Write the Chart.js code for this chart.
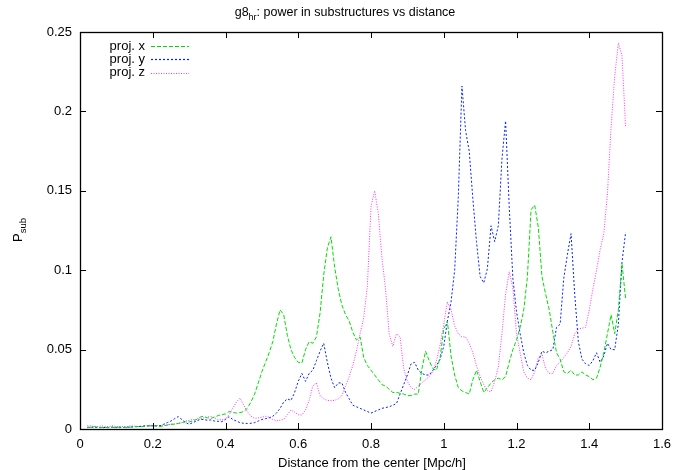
<!DOCTYPE html>
<html>
<head>
<meta charset="utf-8">
<script src="https://cdn.jsdelivr.net/npm/chart.js@4.4.1/dist/chart.umd.min.js"></script>
<style>
    html, body { margin: 0; padding: 0; background: #fff; }
    #wrap { width: 690px; height: 470px; }
</style>
</head>
<body>
<div id="wrap"><canvas id="psubChart" width="690" height="470"></canvas></div>
<script>
// distance from the center [Mpc/h]
const distance = [
    0.02, 0.03, 0.04, 0.05, 0.06, 0.07, 0.08, 0.09, 0.10, 0.11,
    0.12, 0.13, 0.14, 0.15, 0.16, 0.17, 0.18, 0.19, 0.20, 0.21,
    0.22, 0.23, 0.24, 0.25, 0.26, 0.27, 0.28, 0.29, 0.30, 0.31,
    0.32, 0.33, 0.34, 0.35, 0.36, 0.37, 0.38, 0.39, 0.40, 0.41,
    0.42, 0.43, 0.44, 0.45, 0.46, 0.47, 0.48, 0.49, 0.50, 0.51,
    0.52, 0.53, 0.54, 0.55, 0.56, 0.57, 0.58, 0.59, 0.60, 0.61,
    0.62, 0.63, 0.64, 0.65, 0.66, 0.67, 0.68, 0.69, 0.70, 0.71,
    0.72, 0.73, 0.74, 0.75, 0.76, 0.77, 0.78, 0.79, 0.80, 0.81,
    0.82, 0.83, 0.84, 0.85, 0.86, 0.87, 0.88, 0.89, 0.90, 0.91,
    0.92, 0.93, 0.94, 0.95, 0.96, 0.97, 0.98, 0.99, 1.00, 1.01,
    1.02, 1.03, 1.04, 1.05, 1.06, 1.07, 1.08, 1.09, 1.10, 1.11,
    1.12, 1.13, 1.14, 1.15, 1.16, 1.17, 1.18, 1.19, 1.20, 1.21,
    1.22, 1.23, 1.24, 1.25, 1.26, 1.27, 1.28, 1.29, 1.30, 1.31,
    1.32, 1.33, 1.34, 1.35, 1.36, 1.37, 1.38, 1.39, 1.40, 1.41,
    1.42, 1.43, 1.44, 1.45, 1.46, 1.47, 1.48, 1.49, 1.50
];

const projX = [
    0.001, 0.001, 0.0015, 0.001, 0.001, 0.001, 0.0008, 0.001, 0.001, 0.0012,
    0.001, 0.001, 0.0012, 0.0015, 0.0015, 0.0015, 0.0018, 0.002, 0.002, 0.0018,
    0.0015, 0.002, 0.0025, 0.003, 0.003, 0.0035, 0.004, 0.0045, 0.0045, 0.005,
    0.006, 0.0075, 0.008, 0.007, 0.0067, 0.0075, 0.0085, 0.009, 0.0095, 0.011,
    0.0105, 0.01, 0.0103, 0.011, 0.013, 0.017, 0.022, 0.029, 0.036, 0.042,
    0.048, 0.055, 0.066, 0.075, 0.072, 0.059, 0.05, 0.045, 0.042, 0.0415,
    0.05, 0.055, 0.054, 0.058, 0.073, 0.097, 0.114, 0.121, 0.102, 0.088,
    0.078, 0.072, 0.068, 0.061, 0.056, 0.058, 0.045, 0.04, 0.037, 0.034,
    0.031, 0.028, 0.027, 0.025, 0.023, 0.023, 0.0225, 0.022, 0.021, 0.021,
    0.022, 0.022, 0.038, 0.049, 0.043, 0.038, 0.037, 0.045, 0.063, 0.068,
    0.046, 0.034, 0.026, 0.024, 0.023, 0.022, 0.031, 0.037, 0.03, 0.023,
    0.026, 0.029, 0.031, 0.032, 0.031, 0.033, 0.042, 0.05, 0.056, 0.064,
    0.075, 0.096, 0.138, 0.141, 0.127, 0.096, 0.085, 0.075, 0.061, 0.048,
    0.044, 0.036, 0.035, 0.037, 0.034, 0.034, 0.036, 0.034, 0.033, 0.031,
    0.032, 0.039, 0.048, 0.06, 0.072, 0.06, 0.075, 0.104, 0.082
];

const projY = [
    0.001, 0.0012, 0.001, 0.001, 0.0008, 0.001, 0.001, 0.0012, 0.001, 0.001,
    0.001, 0.0012, 0.0012, 0.0015, 0.0015, 0.0018, 0.002, 0.002, 0.002, 0.002,
    0.002, 0.003, 0.004, 0.005, 0.0065, 0.0078, 0.006, 0.004, 0.003, 0.004,
    0.005, 0.006, 0.006, 0.0055, 0.0057, 0.005, 0.0048, 0.0046, 0.006, 0.0078,
    0.006, 0.005, 0.004, 0.0036, 0.0035, 0.0036, 0.004, 0.005, 0.006, 0.0065,
    0.007, 0.008, 0.01, 0.013, 0.017, 0.019, 0.018, 0.023, 0.03, 0.035,
    0.03, 0.035, 0.037, 0.043, 0.049, 0.054, 0.042, 0.032, 0.026, 0.029,
    0.029, 0.023, 0.019, 0.015, 0.014, 0.013, 0.012, 0.011, 0.01, 0.011,
    0.012, 0.013, 0.0135, 0.014, 0.015, 0.016, 0.022, 0.028, 0.034, 0.041,
    0.042, 0.037, 0.035, 0.034, 0.034, 0.037, 0.04, 0.044, 0.052, 0.068,
    0.08, 0.1, 0.146, 0.216, 0.188, 0.175, 0.145, 0.118, 0.096, 0.092,
    0.101, 0.128, 0.118, 0.128, 0.17, 0.194, 0.14, 0.095, 0.074, 0.06,
    0.048, 0.04, 0.037, 0.037, 0.042, 0.049, 0.048, 0.049, 0.05, 0.064,
    0.066, 0.095, 0.11, 0.123, 0.085, 0.055, 0.044, 0.041, 0.04, 0.043,
    0.048, 0.042, 0.046, 0.054, 0.05, 0.05, 0.066, 0.105, 0.124
];

const projZ = [
    0.002, 0.002, 0.0015, 0.0015, 0.002, 0.0015, 0.0015, 0.002, 0.0015, 0.0015,
    0.0015, 0.0015, 0.002, 0.0018, 0.0015, 0.0015, 0.002, 0.002, 0.002, 0.0022,
    0.0022, 0.0025, 0.0025, 0.003, 0.0032, 0.0035, 0.004, 0.005, 0.0055, 0.006,
    0.006, 0.0065, 0.007, 0.0075, 0.008, 0.007, 0.006, 0.0057, 0.0065, 0.009,
    0.013, 0.017, 0.0194, 0.015, 0.011, 0.008, 0.0067, 0.007, 0.0074, 0.008,
    0.0075, 0.006, 0.0052, 0.0055, 0.006, 0.009, 0.012, 0.0105, 0.009, 0.0088,
    0.012, 0.018, 0.027, 0.029, 0.021, 0.019, 0.018, 0.018, 0.018, 0.019,
    0.021, 0.027, 0.033, 0.04, 0.049, 0.06, 0.07, 0.09, 0.14, 0.15,
    0.136, 0.108, 0.088, 0.06, 0.052, 0.06, 0.058, 0.038, 0.03, 0.026,
    0.025, 0.027, 0.029, 0.031, 0.033, 0.036, 0.043, 0.053, 0.066, 0.08,
    0.075, 0.065, 0.06, 0.058, 0.058, 0.054, 0.048, 0.04, 0.033, 0.028,
    0.024, 0.0235, 0.03, 0.039, 0.06, 0.085, 0.099, 0.089, 0.06, 0.048,
    0.036, 0.032, 0.031, 0.036, 0.045, 0.047, 0.038, 0.035, 0.035, 0.04,
    0.042, 0.045, 0.048, 0.052, 0.06, 0.063, 0.0635, 0.064, 0.075, 0.088,
    0.1, 0.113, 0.123, 0.148, 0.19, 0.222, 0.243, 0.235, 0.19
];

const xTicks = [0, 0.2, 0.4, 0.6, 0.8, 1, 1.2, 1.4, 1.6];
const yTicks = [0, 0.05, 0.1, 0.15, 0.2, 0.25];

const FONT = '"Liberation Sans", Arial, Helvetica, sans-serif';

const toPoints = (vals) => distance.map((d, i) => ({ x: d, y: vals[i] }));
const fmt = (v) => String(Number(v.toFixed(3)));

// draws text pieces in a row, some of them lowered as subscripts
const drawRun = (ctx, parts, x, y) => {
    parts.forEach(([txt, font, dy]) => {
        ctx.font = font;
        ctx.fillText(txt, x, y + dy);
        x += ctx.measureText(txt).width;
    });
};
const runWidth = (ctx, parts) => parts.reduce((w, [txt, font]) => {
    ctx.font = font;
    return w + ctx.measureText(txt).width;
}, 0);

// gnuplot look: closed border, inward mirrored ticks, text-then-sample key, labels with subscripts
const gnuplotFrame = {
    id: 'gnuplotFrame',
    afterDraw(chart) {
        const { ctx, chartArea: a, scales } = chart;
        const tick = 6;
        ctx.save();
        ctx.strokeStyle = '#000';
        ctx.lineWidth = 1;
        ctx.setLineDash([]);

        ctx.beginPath();
        xTicks.forEach(v => {
            const px = Math.round(scales.x.getPixelForValue(v)) + 0.5;
            ctx.moveTo(px, a.bottom); ctx.lineTo(px, a.bottom - tick);
            ctx.moveTo(px, a.top); ctx.lineTo(px, a.top + tick);
        });
        yTicks.forEach(v => {
            const py = Math.round(scales.y.getPixelForValue(v)) + 0.5;
            ctx.moveTo(a.left, py); ctx.lineTo(a.left + tick, py);
            ctx.moveTo(a.right, py); ctx.lineTo(a.right - tick, py);
        });
        ctx.stroke();

        ctx.lineWidth = 1.3;
        ctx.strokeRect(Math.round(a.left) + 0.5, Math.round(a.top) + 0.5,
            Math.round(a.right - a.left), Math.round(a.bottom - a.top));

        // key
        ctx.font = '13px ' + FONT;
        ctx.fillStyle = '#000';
        ctx.textBaseline = 'middle';
        chart.data.datasets.forEach((ds, i) => {
            const y = 46 + i * 13.3;
            ctx.textAlign = 'right';
            ctx.fillText(ds.label, 145, y);
            ctx.strokeStyle = ds.borderColor;
            ctx.lineWidth = 1.2;
            ctx.setLineDash(ds.borderDash);
            ctx.beginPath();
            ctx.moveTo(151, Math.round(y) + 0.5);
            ctx.lineTo(189, Math.round(y) + 0.5);
            ctx.stroke();
        });
        ctx.setLineDash([]);

        const main = '13px ' + FONT, sub = '9.5px ' + FONT;
        ctx.textAlign = 'left';
        ctx.textBaseline = 'alphabetic';

        // title
        const title = [['g8', '12.5px ' + FONT, 0], ['hr', '9px ' + FONT, 4], [': power in substructures vs distance', '12.5px ' + FONT, 0]];
        drawRun(ctx, title, 345 - runWidth(ctx, title) / 2, 16);

        // x label
        ctx.font = main;
        ctx.textAlign = 'center';
        ctx.fillText('Distance from the center [Mpc/h]', 372, 467);
        ctx.textAlign = 'left';

        // y label, rotated
        const ylab = [['P', main, 0], ['sub', sub, 4]];
        ctx.save();
        ctx.translate(22, 230);
        ctx.rotate(-Math.PI / 2);
        drawRun(ctx, ylab, -runWidth(ctx, ylab) / 2, 0);
        ctx.restore();

        ctx.restore();
    }
};

const line = (label, vals, color, dash) => ({
    label,
    data: toPoints(vals),
    borderColor: color,
    borderWidth: 1,
    borderDash: dash,
    pointRadius: 0,
    tension: 0,
    fill: false
});

new Chart(document.getElementById('psubChart'), {
    type: 'line',
    data: {
        datasets: [
            line('proj. x', projX, '#00dd00', [4, 2]),
            line('proj. y', projY, '#0022ff', [2, 2]),
            line('proj. z', projZ, '#ff33ff', [1, 1.5])
        ]
    },
    options: {
        responsive: false,
        animation: false,
        events: [],
        layout: { padding: { top: 32, right: 28, bottom: 0, left: 0 } },
        plugins: {
            legend: { display: false },
            title: { display: false },
            tooltip: { enabled: false }
        },
        scales: {
            x: {
                type: 'linear',
                min: 0, max: 1.6,
                afterFit: s => { s.height = 41; },
                afterBuildTicks: s => { s.ticks = xTicks.map(v => ({ value: v })); },
                border: { display: false },
                grid: { display: false, drawTicks: false },
                ticks: {
                    padding: 8,
                    color: '#000',
                    font: { family: FONT, size: 13 },
                    maxRotation: 0,
                    callback: v => fmt(v)
                }
            },
            y: {
                min: 0, max: 0.25,
                afterFit: s => { s.width = 80; },
                afterBuildTicks: s => { s.ticks = yTicks.map(v => ({ value: v })); },
                border: { display: false },
                grid: { display: false, drawTicks: false },
                ticks: {
                    padding: 8,
                    color: '#000',
                    font: { family: FONT, size: 13 },
                    callback: v => fmt(v)
                }
            }
        }
    },
    plugins: [gnuplotFrame]
});
</script>
</body>
</html>
